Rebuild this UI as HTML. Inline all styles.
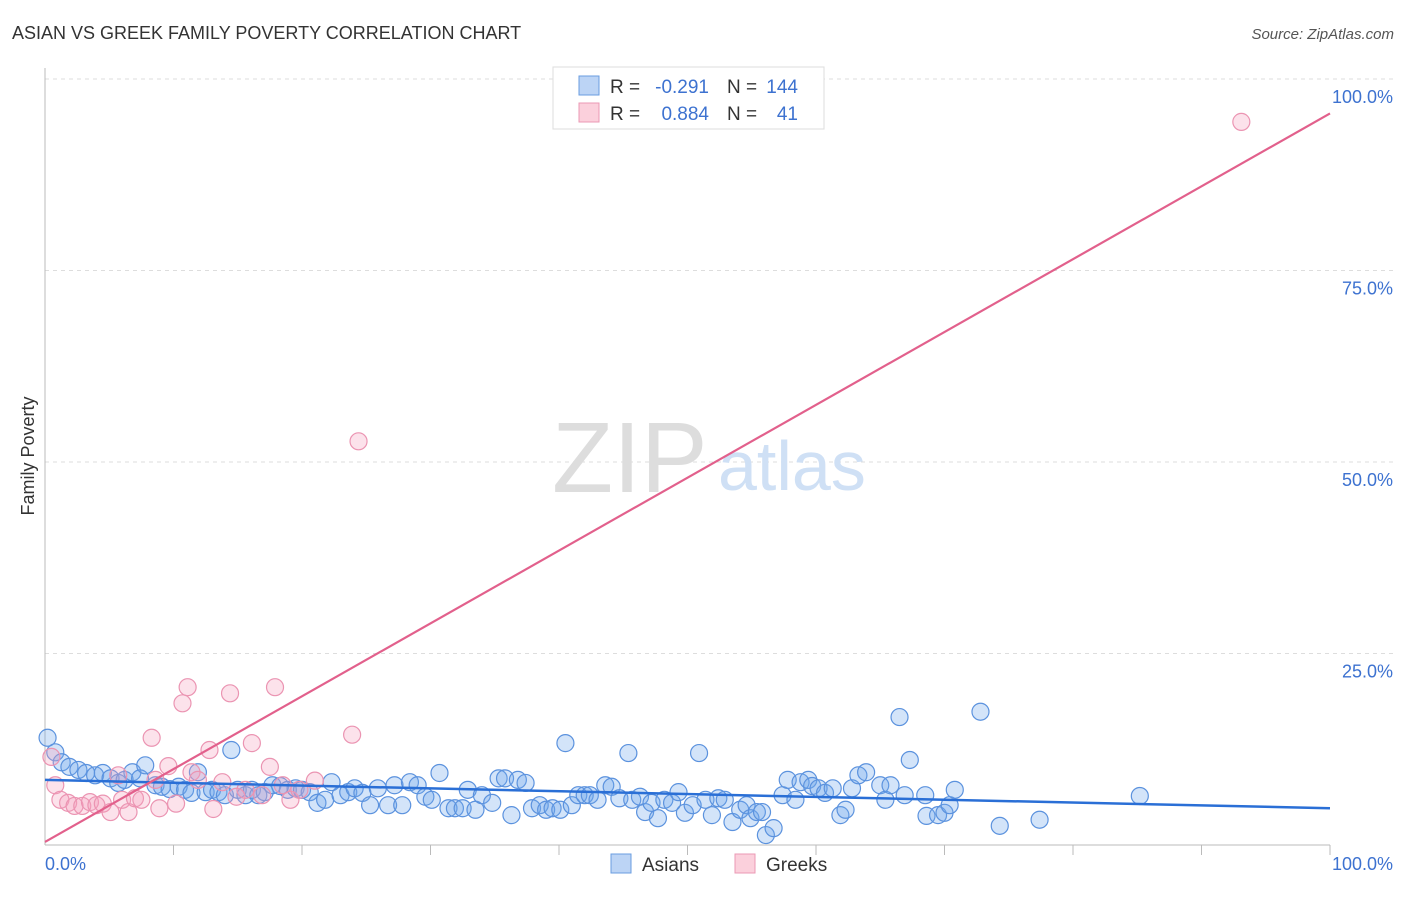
<!DOCTYPE html>
<html><head><meta charset="utf-8"><style>
body{margin:0;background:#fff;font-family:"Liberation Sans",sans-serif}
svg text{font-family:"Liberation Sans",sans-serif}
</style></head><body>
<svg id="chart" width="1406" height="892">
<text x="12" y="39" font-size="18" fill="#333">ASIAN VS GREEK FAMILY POVERTY CORRELATION CHART</text>
<text x="1394" y="39" font-size="15" fill="#555" font-style="italic" text-anchor="end">Source: ZipAtlas.com</text>
<text transform="translate(34,456) rotate(-90)" font-size="18" fill="#333" text-anchor="middle">Family Poverty</text>
<g id="grid"></g>
<text x="552" y="492" font-size="100" fill="#ddd" font-family="Liberation Serif">ZIP</text>
<text x="718" y="490" font-size="70" fill="#cfe0f5">atlas</text>
<line x1="45" y1="68" x2="45" y2="845" stroke="#bbb"/>
<line x1="45" y1="845" x2="1330" y2="845" stroke="#bbb"/>
<g id="ticks"></g>
<g id="pts"></g>
<g id="lines"></g>
<text x="45" y="870" font-size="18" fill="#3d72d0">0.0%</text>
<text x="1393" y="870" font-size="18" fill="#3d72d0" text-anchor="end">100.0%</text>
<g>
<rect x="553" y="67" width="271" height="62" fill="#fff" stroke="#ddd"/>
<rect x="579" y="76" width="20" height="19" fill="#bcd4f5" stroke="#6a9de0"/>
<rect x="579" y="103" width="20" height="19" fill="#fbd0dc" stroke="#eb99b4"/>
<text x="610" y="93" font-size="19" fill="#333">R =</text>
<text x="709" y="93" font-size="19" fill="#3d72d0" text-anchor="end">-0.291</text>
<text x="727" y="93" font-size="19" fill="#333">N =</text>
<text x="798" y="93" font-size="19" fill="#3d72d0" text-anchor="end">144</text>
<text x="610" y="120" font-size="19" fill="#333">R =</text>
<text x="709" y="120" font-size="19" fill="#3d72d0" text-anchor="end">0.884</text>
<text x="727" y="120" font-size="19" fill="#333">N =</text>
<text x="798" y="120" font-size="19" fill="#3d72d0" text-anchor="end">41</text>
</g>
<g>
<rect x="611" y="854" width="20" height="19" fill="#bcd4f5" stroke="#6a9de0"/>
<text x="642" y="871" font-size="19" fill="#333">Asians</text>
<rect x="735" y="854" width="20" height="19" fill="#fbd0dc" stroke="#eb99b4"/>
<text x="766" y="871" font-size="19" fill="#333">Greeks</text>
</g>
</svg>
<script>
const yTicks=[25,50,75,100];
const yTickLabels=["25.0%","50.0%","75.0%","100.0%"];
const asianX=[0.2,0.8,1.3,1.9,2.6,3.2,3.9,4.5,5.1,5.7,6.2,6.8,7.4,7.8,8.6,9.1,9.7,10.4,10.9,11.4,11.9,12.5,13.0,13.5,14.0,14.5,15.0,15.6,16.1,16.6,17.1,17.7,18.3,18.9,19.5,20.0,20.6,21.2,21.8,22.3,23.0,23.6,24.1,24.7,25.3,25.9,26.7,27.2,27.8,28.4,29.0,29.6,30.1,30.7,31.4,31.9,32.5,32.9,33.5,34.0,34.8,35.3,35.8,36.3,36.8,37.4,37.9,38.5,39.0,39.5,40.1,40.5,41.0,41.5,42.0,42.4,43.0,43.6,44.1,44.7,45.4,45.7,46.3,46.7,47.2,47.7,48.2,48.8,49.3,49.8,50.4,50.9,51.4,51.9,52.4,52.9,53.5,54.1,54.6,54.9,55.4,55.8,56.1,56.7,57.4,57.8,58.4,58.8,59.4,59.7,60.2,60.7,61.3,61.9,62.3,62.8,63.3,63.9,65.0,65.4,65.8,66.5,66.9,67.3,68.5,68.6,69.5,70.0,70.4,70.8,72.8,74.3,77.4,85.2];
const asianY=[14.0,12.1,10.8,10.2,9.8,9.4,9.1,9.4,8.7,8.1,8.5,9.5,8.7,10.4,7.8,7.6,7.3,7.6,7.2,6.8,9.5,6.9,7.2,6.9,6.5,12.4,7.2,6.5,7.2,6.5,6.9,7.8,7.7,7.2,7.4,7.2,6.9,5.5,5.9,8.2,6.5,6.9,7.4,6.8,5.2,7.4,5.2,7.8,5.2,8.2,7.8,6.3,5.9,9.4,4.8,4.8,4.8,7.2,4.6,6.5,5.5,8.7,8.7,3.9,8.5,8.1,4.8,5.2,4.6,4.8,4.6,13.3,5.2,6.5,6.5,6.5,5.9,7.8,7.6,6.1,12.0,5.9,6.3,4.3,5.5,3.5,5.9,5.5,6.9,4.2,5.2,12.0,5.9,3.9,6.1,5.9,3.0,4.6,5.2,3.5,4.3,4.3,1.3,2.2,6.5,8.5,5.9,8.2,8.5,7.7,7.4,6.8,7.4,3.9,4.6,7.4,9.1,9.5,7.8,5.9,7.8,16.7,6.5,11.1,6.5,3.8,3.9,4.2,5.2,7.2,17.4,2.5,3.3,6.4];
const greekX=[0.5,0.8,1.2,1.8,2.3,2.9,3.5,4.0,4.5,5.1,5.7,6.0,6.5,7.0,7.5,8.3,8.6,8.9,9.6,10.2,10.7,11.1,11.4,11.9,12.8,13.1,13.8,14.4,14.9,15.6,16.1,16.9,17.5,17.9,18.5,19.1,19.8,21.0,23.9,24.4,93.1];
const greekY=[11.5,7.8,5.9,5.5,5.1,5.1,5.6,5.2,5.4,4.3,9.1,5.9,4.3,6.1,5.9,14.0,8.5,4.8,10.3,5.4,18.5,20.6,9.5,8.5,12.4,4.7,8.2,19.8,6.3,7.2,13.3,6.5,10.2,20.6,7.8,5.9,7.2,8.4,14.4,52.7,94.4];
const asianTrend=[8.5,4.8];
const greekTrend=[0.4,95.5];
const X=v=>45+v*12.85, Y=v=>845-v*7.66;
const NS="http://www.w3.org/2000/svg";
function mk(tag,attrs,parent){const e=document.createElementNS(NS,tag);for(const k in attrs)e.setAttribute(k,attrs[k]);document.getElementById(parent).appendChild(e);return e;}
yTicks.forEach((t,i)=>{
 const l=mk('line',{x1:45,x2:1395,y1:Y(t),y2:Y(t),stroke:'#ddd','stroke-dasharray':'4,4'},'grid');
 
 
 const tx=mk('text',{x:1393,y:Y(t)+24,'font-size':18,fill:'#3d72d0','text-anchor':'end'},'grid');
 tx.textContent=yTickLabels[i];
 
 
});
for(let k=1;k<=10;k++){
 const l=mk('line',{x1:X(k*10),x2:X(k*10),y1:845,y2:855,stroke:'#bbb'},'ticks');
 
 
}
asianX.forEach((x,i)=>{
 const c=mk('circle',{cx:X(x),cy:Y(asianY[i]),r:8.5,fill:'rgba(110,165,235,0.3)',stroke:'#5b92de','stroke-width':1.2},'pts');
 
 
});
greekX.forEach((x,i)=>{
 const c=mk('circle',{cx:X(x),cy:Y(greekY[i]),r:8.5,fill:'rgba(245,160,190,0.3)',stroke:'#eb94b2','stroke-width':1.2},'pts');
 
 
});
const la=mk('line',{x1:X(0),y1:Y(asianTrend[0]),x2:X(100),y2:Y(asianTrend[1]),stroke:'#2a6fd6','stroke-width':2.5},'lines');


const lg=mk('line',{x1:X(0),y1:Y(greekTrend[0]),x2:X(100),y2:Y(greekTrend[1]),stroke:'#e2608c','stroke-width':2.2},'lines');


</script>
</body></html>
